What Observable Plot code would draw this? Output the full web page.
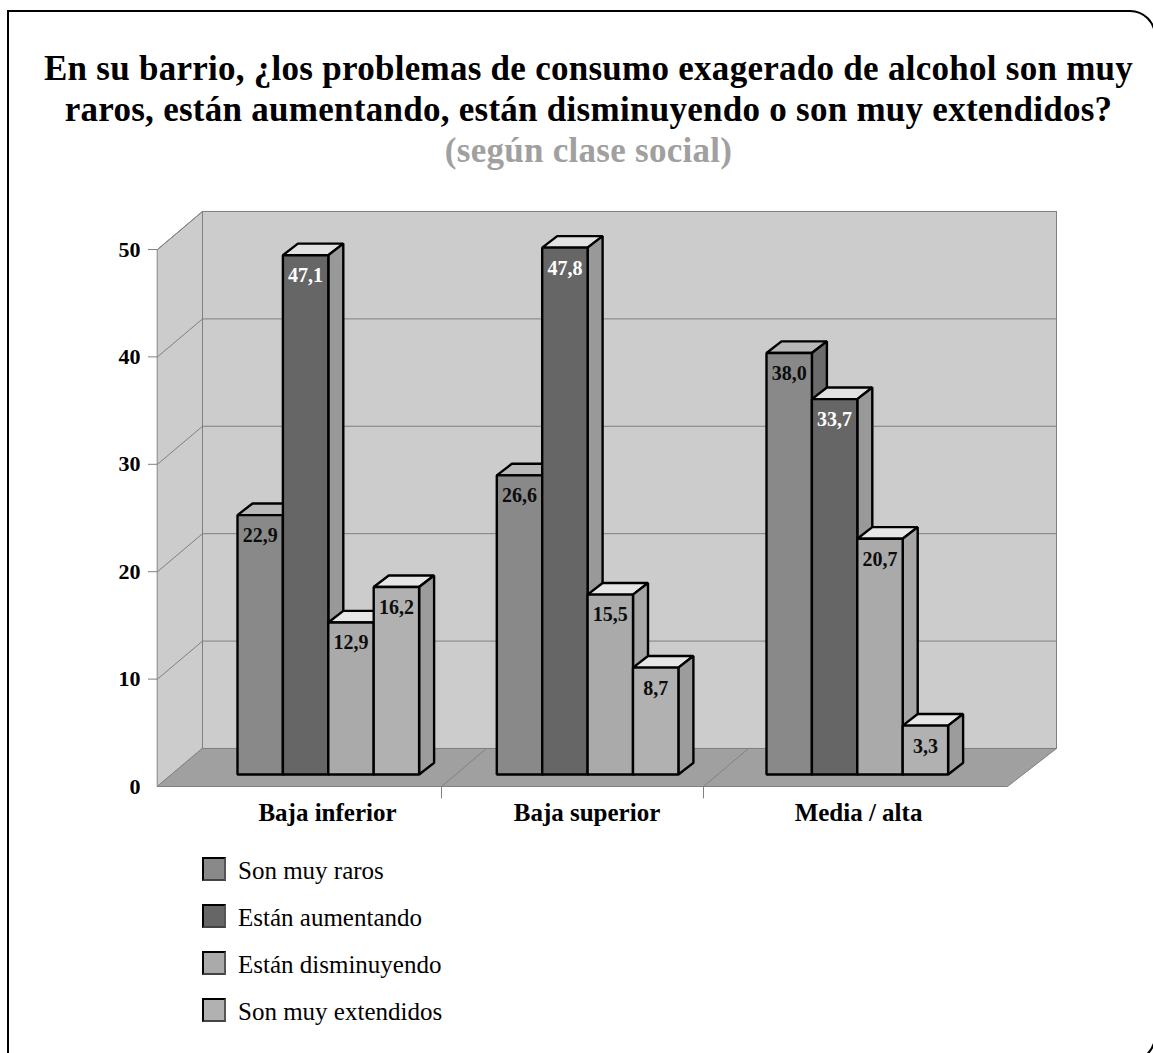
<!DOCTYPE html>
<html lang="es">
<head>
<meta charset="utf-8">
<script src="https://cdn.jsdelivr.net/npm/d3@7"></script>
<script src="https://cdn.jsdelivr.net/npm/@observablehq/plot@0.6"></script>
<style>
  html, body { margin: 0; padding: 0; background: #fff; }
  body { width: 1153px; height: 1053px; overflow: hidden; position: relative;
         font-family: "Liberation Serif", serif; color: #000; }
  #frame { position: absolute; left: 7px; top: 10px; width: 1149px; height: 1052px;
           border: 2.5px solid #000; border-radius: 0 26px 26px 0; box-sizing: border-box; pointer-events: none; }
  #heading { height: 200px; box-sizing: border-box; padding-top: 48px; text-align: center;
             padding-left: 24px; font-weight: bold; font-size: 35px; line-height: 41px; letter-spacing: 0.27px; white-space: nowrap; }
  #heading .sub { color: #a0a0a0; }
  #chart svg { display: block; }
  #legend { position: absolute; left: 202px; top: 857px; }
  #legend .row { display: flex; align-items: center; height: 47px; font-size: 25px; }
  #legend .swatch { width: 24px; height: 24px; box-sizing: border-box; border: 2px solid #000;
                    border-right-color: #555; border-bottom-color: #444; margin-right: 12px; margin-top: -23px; }
  #legend .row span { margin-top: -20px; }
</style>
</head>
<body>
<div id="frame"></div>
<div id="heading">
  <div>En su barrio, ¿los problemas de consumo exagerado de alcohol son muy</div>
  <div>raros, están aumentando, están disminuyendo o son muy extendidos?</div>
  <div class="sub">(según clase social)</div>
</div>
<div id="chart"></div>
<div id="legend"></div>
<script>
// Survey shares by social class
const classes = ["Baja inferior", "Baja superior", "Media / alta"];
const answers = ["Son muy raros", "Están aumentando", "Están disminuyendo", "Son muy extendidos"];
const sonMuyRaros = [22.9, 26.6, 38.0];
const estanAumentando = [47.1, 47.8, 33.7];
const estanDisminuyendo = [12.9, 15.5, 20.7];
const sonMuyExtendidos = [16.2, 8.7, 3.3];
const series = [sonMuyRaros, estanAumentando, estanDisminuyendo, sonMuyExtendidos];
const axisTicks = [0, 10, 20, 30, 40, 50];

// Face colours per answer
const frontFill = ["#898989", "#666666", "#aaaaaa", "#b1b1b1"];
const topFill = ["#b8b8b8", "#e2e2e2", "#e6e6e6", "#e6e6e6"];
const sideFill = ["#6b6b6b", "#999999", "#a6a6a6", "#9c9c9c"];

// Oblique projection, x in chart widths from the front-left corner, y in axis units
const chartWidth = 850;
const wallDepthX = 45, wallRise = 3.54;
const barDepthX = 15, barRise = 1.08;
const floorRise = 1.12;   // where the bars stand above the front edge of the floor
const topRise = 2.37;     // lift of the bar tops against the axis
const barWidth = 45.4;
const groupStart = [80, 339.3, 609];
const categoryEdges = [284, 546];
const classCenter = [170, 429.5, 701];

const wallColor = "#cccccc", floorColor = "#a0a0a0", gridColor = "#808080";
const yMax = 50;

function poly(id, fill, pts) {
  return pts.map(([x, y]) => ({id, fill, x, y}));
}

// Walls and floor
const walls = [
  ...poly("back", wallColor, [[wallDepthX, wallRise], [chartWidth + wallDepthX + 4, wallRise],
    [chartWidth + wallDepthX + 4, yMax + wallRise], [wallDepthX, yMax + wallRise]]),
  ...poly("side", wallColor, [[0, 0], [wallDepthX, wallRise], [wallDepthX, yMax + wallRise], [0, yMax]])
];
const floor = poly("floor", floorColor, [[0, 0], [chartWidth, 0],
  [chartWidth + wallDepthX + 4, wallRise], [wallDepthX, wallRise]]);

// One path per grid or edge segment
const gridSegments = [
  ...axisTicks.slice(1).flatMap(v => [
    {id: `s${v}`, x: 0, y: v}, {id: `s${v}`, x: wallDepthX, y: v + wallRise},
    {id: `s${v}`, x: chartWidth + wallDepthX + 4, y: v + wallRise}
  ]),
  ...categoryEdges.flatMap(e => [
    {id: `f${e}`, x: e, y: 0}, {id: `f${e}`, x: e + wallDepthX, y: wallRise}
  ])
];

// Bars painted left to right so each front covers its neighbour's side face
const faces = [], barLabels = [];
classes.forEach((c, g) => {
  series.forEach((values, i) => {
    const v = values[g];
    const x0 = groupStart[g] + i * barWidth, x1 = x0 + barWidth;
    const base = floorRise, top = v + topRise;
    const key = `${g}-${i}`;
    faces.push(
      ...poly(`t${key}`, topFill[i], [[x0, top], [x1, top], [x1 + barDepthX, top + barRise], [x0 + barDepthX, top + barRise]]),
      ...poly(`r${key}`, sideFill[i], [[x1, base], [x1 + barDepthX, base + barRise], [x1 + barDepthX, top + barRise], [x1, top]]),
      ...poly(`f${key}`, frontFill[i], [[x0, base], [x1, base], [x1, top], [x0, top]])
    );
    barLabels.push({x: (x0 + x1) / 2, y: top, text: v.toFixed(1).replace(".", ","), light: i === 1});
  });
});

const chart = Plot.plot({
  width: 1153, height: 635,
  marginLeft: 157, marginRight: 146, marginTop: 49, marginBottom: 49,
  x: {domain: [0, chartWidth], axis: null},
  y: {domain: [0, yMax], axis: null},
  color: {type: "identity"},
  clip: false,
  style: {fontFamily: '"Liberation Serif", serif', background: "transparent", overflow: "visible"},
  marks: [
    Plot.line(walls, {x: "x", y: "y", z: "id", fill: "fill", stroke: gridColor, strokeWidth: 1, curve: "linear-closed"}),
    Plot.line(floor, {x: "x", y: "y", z: "id", fill: "fill", stroke: gridColor, strokeWidth: 1, curve: "linear-closed"}),
    Plot.line(gridSegments, {x: "x", y: "y", z: "id", stroke: gridColor, strokeWidth: 1}),
    Plot.ruleY(axisTicks.slice(1), {x1: -9, x2: 0, y: d => d, stroke: gridColor, strokeWidth: 1}),
    Plot.ruleX(categoryEdges, {x: d => d, y1: 0, y2: -1.15, stroke: gridColor, strokeWidth: 1}),
    Plot.axisY({ticks: axisTicks, tickSize: 0, tickPadding: 17, fontSize: 22, fontWeight: "bold", fill: "#000", label: null}),
    Plot.text(classes, {x: (d, i) => classCenter[i], y: 0, dy: 26, text: d => d, fontSize: 25, fontWeight: "bold", fill: "#000"}),
    Plot.line(faces, {x: "x", y: "y", z: "id", fill: "fill", stroke: "#000", strokeWidth: 2.4, curve: "linear-closed", strokeLinejoin: "miter"}),
    Plot.text(barLabels, {x: "x", y: "y", dy: 20.5, text: "text", fontSize: 20, fontWeight: "bold", fill: d => d.light ? "#fff" : "#0d0d0d"})
  ]
});
document.getElementById("chart").append(chart);

// Legend under the chart
const legend = d3.select("#legend");
answers.forEach((a, i) => {
  const row = legend.append("div").attr("class", "row");
  row.append("div").attr("class", "swatch").style("background", frontFill[i]);
  row.append("span").text(a);
});
</script>
</body>
</html>
